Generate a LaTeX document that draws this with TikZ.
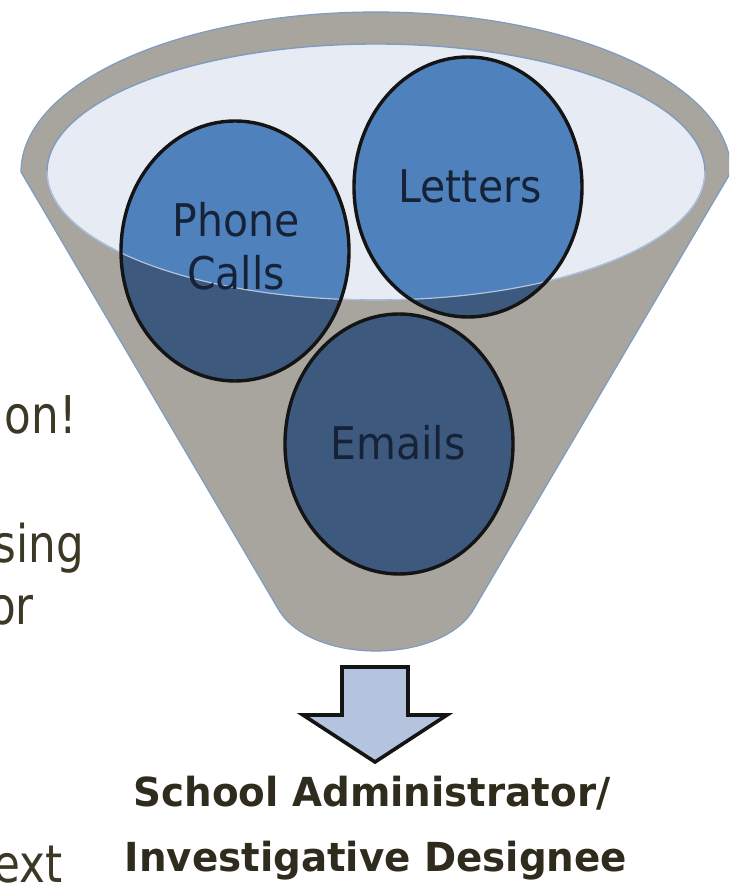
\documentclass[tikz,border=0pt]{standalone}
\usepackage{fontspec}
\usepackage{tikz}
\usetikzlibrary{shapes.geometric}
\newfontfamily\bubblefont[FakeStretch=0.91]{DejaVu Sans}
\newfontfamily\slidefont[FakeStretch=0.84]{DejaVu Sans}
\newfontfamily\targetfont[FakeStretch=0.97]{DejaVu Sans}
\definecolor{funnelgray}{RGB}{168,165,159}
\definecolor{funnelline}{RGB}{126,155,192}
\definecolor{mouth}{RGB}{231,235,244}
\definecolor{mouthedge}{RGB}{178,195,219}
\definecolor{bluetop}{RGB}{79,129,189}
\definecolor{bluelow}{RGB}{61,90,126}
\definecolor{labelink}{RGB}{22,34,56}
\definecolor{slideink}{RGB}{59,56,38}
\definecolor{targetink}{RGB}{47,44,30}
\definecolor{arrowfill}{RGB}{180,195,222}
\tikzstyle{funnel}=[fill=funnelgray,draw=funnelline,line width=1.2pt]
\tikzstyle{opening}=[fill=mouth,draw=funnelline,line width=1.4pt]
\tikzstyle{bubble}=[shape=ellipse,fill=bluelow,inner sep=0pt,minimum width=228pt,minimum height=260pt]
\tikzstyle{bubbleline}=[draw=black!92,line width=3.4pt]
\tikzstyle{bubblelabel}=[font=\bubblefont\fontsize{45}{53}\selectfont,text=labelink,align=center,inner sep=0pt]
\tikzstyle{slidetext}=[font=\slidefont\fontsize{52}{62}\selectfont,text=slideink,anchor=base east,inner sep=0pt]
\tikzstyle{target}=[font=\targetfont\bfseries\fontsize{40}{65}\selectfont,text=targetink,anchor=base,inner sep=0pt]
\tikzstyle{downarrow}=[fill=arrowfill,draw=black!92,line width=3.6pt,line join=miter]
\begin{document}
\begin{tikzpicture}[x=1pt,y=1pt]
\useasboundingbox (0,0) rectangle (729,886);
\fill[white] (0,0) rectangle (729,886);
\clip (0,0) rectangle (729,886);

\draw[funnel] (21,714) -- (280,274) .. controls (315,222) and (437,222) .. (472,274) -- (731,714)
  arc [start angle=0, end angle=180, x radius=355pt, y radius=160pt] -- cycle;
\draw[opening] (376,714) ellipse [x radius=329pt, y radius=128pt];

\node[bubble] (phone) at (235,635) {};
\node[bubble] (letters) at (468,699) {};
\node[bubble] (emails) at (399,442) {};

\begin{scope}
\clip (376,714) ellipse [x radius=329pt, y radius=128pt];
\fill[bluetop] (phone.center) ellipse [x radius=114pt, y radius=130pt];
\fill[bluetop] (letters.center) ellipse [x radius=114pt, y radius=130pt];
\end{scope}
\draw[mouthedge,line width=1.2pt] (705,714) arc [start angle=0, end angle=-180, x radius=329pt, y radius=128pt];

\draw[bubbleline] (phone.center) ellipse [x radius=114pt, y radius=130pt];
\draw[bubbleline] (letters.center) ellipse [x radius=114pt, y radius=130pt];
\draw[bubbleline] (emails.center) ellipse [x radius=114pt, y radius=130pt];

\node[bubblelabel] (phonetext) at (236,640) {Phone\\Calls};
\node[bubblelabel] (letterstext) at (470,700) {Letters};
\node[bubblelabel] (emailstext) at (398,443) {Emails};

\draw[downarrow] (342,219) -- (408,219) -- (408,171) -- (447,171) -- (375,124) -- (303,171) -- (342,171) -- cycle;

\node[target] (admin) at (372,79) {School Administrator/};
\node[target] (designee) at (376,14) {Investigative Designee};

\node[slidetext] (line1) at (77,452) {on!};
\node[slidetext] (line2) at (84,323) {sing};
\node[slidetext] (line3) at (34,261) {or};
\node[slidetext] (line4) at (63,3) {ext};

\end{tikzpicture}
\end{document}
